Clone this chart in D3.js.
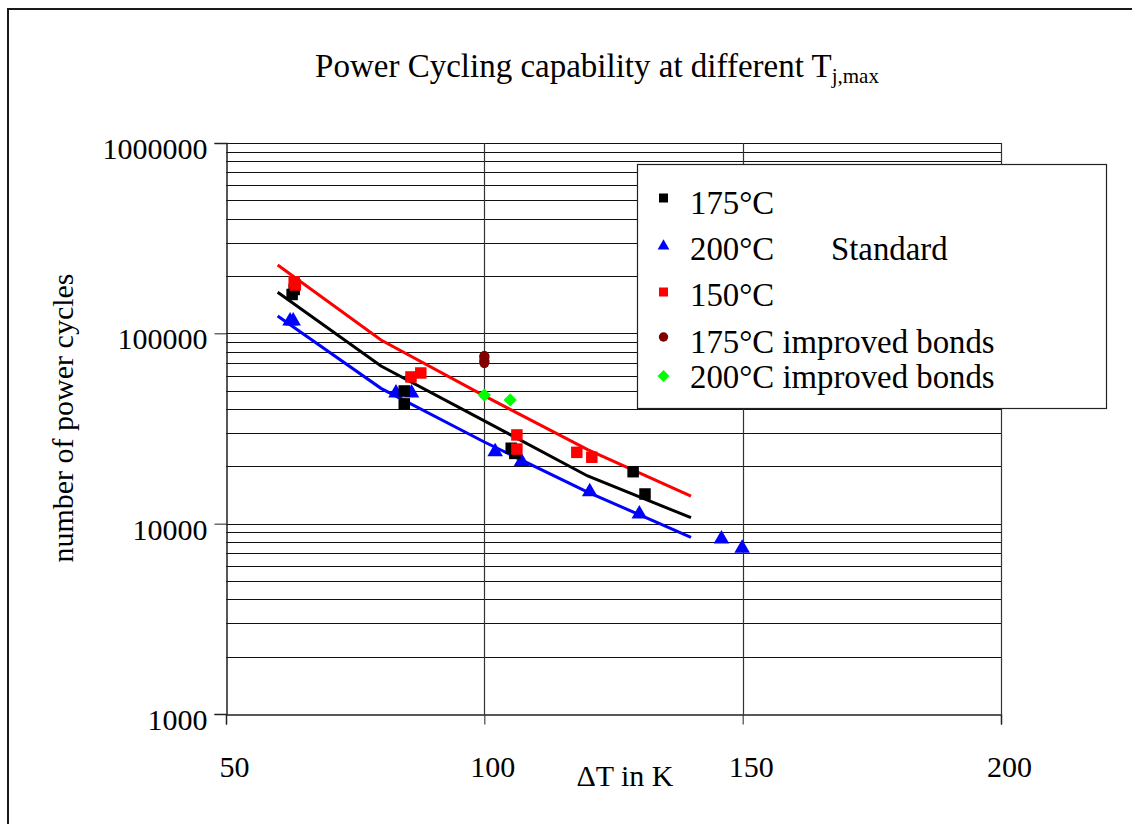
<!DOCTYPE html>
<html>
<head>
<meta charset="utf-8">
<script src="https://cdn.jsdelivr.net/npm/d3@7"></script>
<style>
  html, body { margin: 0; padding: 0; background: #fff; }
  svg { display: block; }
  text { font-family: "Liberation Serif", "Times New Roman", serif; fill: #000; }
</style>
</head>
<body>
<svg id="chart" width="1132" height="824"></svg>
<script>
// ΔT in K (x) against number of power cycles (y, log scale)
const xTicks = [50, 100, 150, 200];
const yTicks = [1000, 10000, 100000, 1000000];

// Measured points per junction temperature
const t175 = [[63.2, 170000], [62.8, 160000], [84.5, 49800], [84.5, 42600],
              [105.2, 24900], [105.9, 23400], [128.8, 18750], [131.1, 14320]];
const t200 = [[62.4, 116000], [63.0, 116000], [82.9, 48600], [85.9, 48600],
              [102.1, 23900], [107.2, 21200], [120.4, 14700], [130.0, 11250],
              [145.9, 8300], [149.9, 7430]];
const t150 = [[63.2, 186700], [63.4, 179500], [85.8, 59000], [87.7, 61900],
              [106.3, 29250], [106.3, 24660], [117.9, 23700], [120.8, 22340]];
const t175Improved = [[100, 75200], [100, 70700]];
const t200Improved = [[100, 47400], [105, 44700]];

// Lifetime curves (ΔT, cycles)
const fitX = [60, 80, 100, 120, 140];
const fit150 = [228500, 92300, 46900, 24500, 13960];
const fit175 = [164300, 67300, 34700, 17800, 10750];
const fit200 = [123300, 51400, 26850, 14660, 8470];

const legendLabels = ["175°C", "200°C", "150°C", "175°C improved bonds", "200°C improved bonds"];

const svg = d3.select("#chart");
const FONT = 30;

const x = d3.scaleLinear().domain([50, 200]).range([226, 1001]);
const y = d3.scaleLog().domain([1000, 1000000]).range([714, 143]);

// outer frame
svg.append("path")
  .attr("d", "M8,824 L8,9 L1132,9")
  .attr("fill", "none").attr("stroke", "#1a1a1a").attr("stroke-width", 2);

// horizontal grid: every 1..9 × decade
const gridVals = [];
for (let d = 3; d <= 5; d++) for (let k = 1; k <= 9; k++) gridVals.push(k * Math.pow(10, d));
gridVals.push(1000000);
svg.append("g").selectAll("line").data(gridVals.filter(v => v > 1000)).join("line")
  .attr("x1", x(50)).attr("x2", x(200))
  .attr("y1", d => Math.round(y(d)) + 0.5).attr("y2", d => Math.round(y(d)) + 0.5)
  .attr("stroke", "#111").attr("stroke-width", 1);

// vertical grid
svg.append("g").selectAll("line").data(xTicks.slice(1)).join("line")
  .attr("x1", d => Math.round(x(d)) + 0.5).attr("x2", d => Math.round(x(d)) + 0.5)
  .attr("y1", y(1000000)).attr("y2", y(1000))
  .attr("stroke", "#333").attr("stroke-width", 1.2);

// y axis
const yAxis = d3.axisLeft(y).tickValues(yTicks).tickFormat(d3.format("d")).tickSize(12).tickPadding(7);
const gy = svg.append("g").attr("transform", `translate(${Math.round(x(50)) + 0.5},0)`).call(yAxis);
gy.select(".domain").attr("stroke", "#222").attr("stroke-width", 1.5);
gy.selectAll(".tick line").attr("stroke", "#222");
gy.selectAll(".tick text").attr("font-size", FONT).attr("dy", "0.82em").attr("y", -9)
  .attr("font-family", "Liberation Serif, Times New Roman, serif");

// x axis
const xAxis = d3.axisBottom(x).tickValues(xTicks).tickFormat(d3.format("d")).tickSize(10).tickPadding(0);
const gx = svg.append("g").attr("transform", `translate(0,${Math.round(y(1000)) + 0.5})`).call(xAxis);
gx.select(".domain").attr("stroke", "#222").attr("stroke-width", 1.5);
gx.selectAll(".tick line").attr("stroke", "#222");
gx.selectAll(".tick text").attr("font-size", FONT).attr("x", 8).attr("y", 62).attr("dy", 0)
  .attr("font-family", "Liberation Serif, Times New Roman, serif");

// curves
const line = d3.line().x(d => x(d[0])).y(d => y(d[1]));
const curves = [[fit150, "#ff0000"], [fit175, "#000000"], [fit200, "#0000ff"]];
curves.forEach(([vals, col]) => {
  svg.append("path")
    .datum(fitX.map((v, i) => [v, vals[i]]))
    .attr("d", line).attr("fill", "none").attr("stroke", col).attr("stroke-width", 3);
});

// marker shapes (diamond = square turned 45°)
const sym = {
  square: d3.symbol().type(d3.symbolSquare),
  triangle: d3.symbol().type(d3.symbolTriangle),
  circle: d3.symbol().type(d3.symbolCircle),
  diamond: d3.symbol().type(d3.symbolSquare)
};
const extra = { square: "", triangle: "", circle: " scale(1,1.2)", diamond: " rotate(45)" };
const series = [
  { data: t175, shape: "square", color: "#000000", size: 132, lsize: 81 },
  { data: t200, shape: "triangle", color: "#0000ff", size: 105, lsize: 60 },
  { data: t150, shape: "square", color: "#ff0000", size: 132, lsize: 81 },
  { data: t175Improved, shape: "circle", color: "#800000", size: 85, lsize: 70 },
  { data: t200Improved, shape: "diamond", color: "#00ff00", size: 88, lsize: 70 }
];
// draw order: blue, black, red on top, then improved bonds
[1, 0, 2, 3, 4].forEach(i => {
  const s = series[i];
  svg.append("g").selectAll("path").data(s.data).join("path")
    .attr("d", sym[s.shape].size(s.size)())
    .attr("transform", d => `translate(${x(d[0])},${y(d[1])})${extra[s.shape]}`)
    .attr("fill", s.color);
});

// legend
const lg = svg.append("g");
lg.append("rect").attr("x", 637.5).attr("y", 164.5).attr("width", 469).attr("height", 244)
  .attr("fill", "#fff").attr("stroke", "#222").attr("stroke-width", 1.2);
const legY = [198, 246, 292, 337, 376];
const legBase = [214, 260, 306, 353, 388];
series.forEach((s, i) => {
  lg.append("path").attr("d", sym[s.shape].size(s.lsize)())
    .attr("transform", `translate(663.5,${legY[i]})${s.shape === "diamond" ? " rotate(45)" : ""}`)
    .attr("fill", s.color);
  lg.append("text").attr("x", 690).attr("y", legBase[i]).attr("font-size", 32.8).text(legendLabels[i]);
});
lg.append("text").attr("x", 831).attr("y", legBase[1]).attr("font-size", 32.8).text("Standard");

// title
const title = svg.append("text").attr("x", 597).attr("y", 77).attr("text-anchor", "middle").attr("font-size", 33);
title.append("tspan").text("Power Cycling capability at different T");
title.append("tspan").attr("font-size", 21).attr("dy", 6).text("j,max");

// axis titles
svg.append("text").attr("x", 625).attr("y", 786).attr("text-anchor", "middle").attr("font-size", FONT)
  .text("ΔT in K");
svg.append("text").attr("transform", "translate(73,418) rotate(-90)").attr("text-anchor", "middle")
  .attr("font-size", FONT).text("number of power cycles");
</script>
</body>
</html>
